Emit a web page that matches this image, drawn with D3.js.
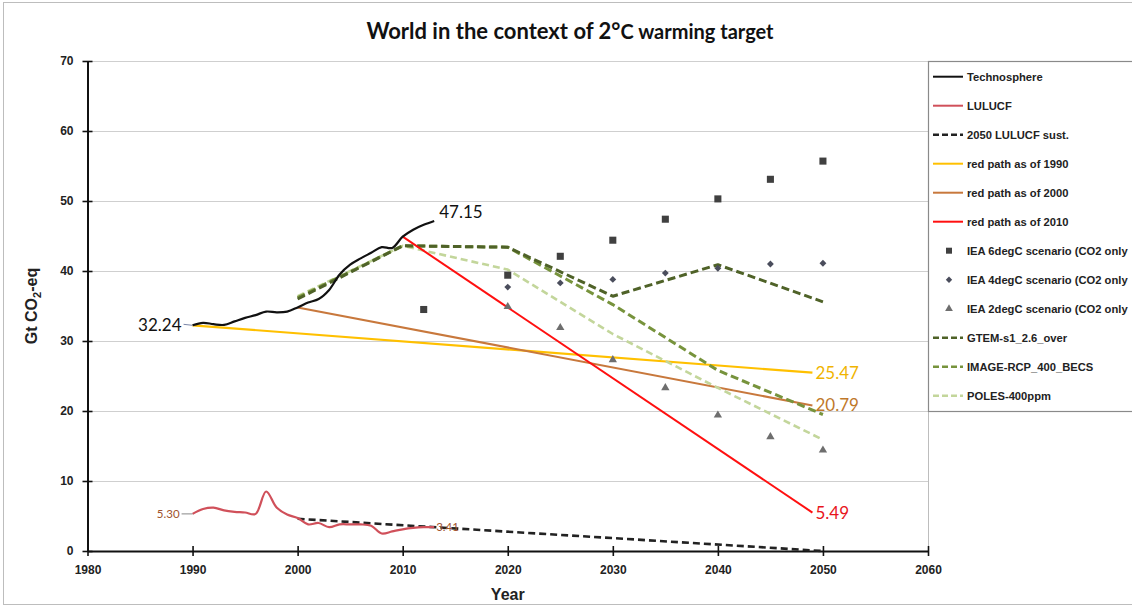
<!DOCTYPE html>
<html>
<head>
<meta charset="utf-8">
<script src="https://cdn.jsdelivr.net/npm/d3@7"></script>
<style>
  html, body { margin: 0; padding: 0; background: #fff; }
  svg { display: block; }
</style>
</head>
<body>
<svg id="chart" width="1132" height="607"></svg>
<script>
// ---- data ----
const techYears = d3.range(1990, 2014);
const techValues = [32.24, 32.6, 32.4, 32.3, 32.8, 33.3, 33.7, 34.2, 34.1, 34.2,
                    34.8, 35.5, 36.0, 37.3, 39.5, 40.9, 41.8, 42.6, 43.4, 43.3,
                    44.9, 45.9, 46.6, 47.15];
const luYears = d3.range(1990, 2014);
const luValues = [5.30, 6.0, 6.2, 5.8, 5.6, 5.5, 5.3, 8.5, 6.2, 5.2,
                  4.7, 3.8, 4.0, 3.4, 3.8, 3.8, 3.8, 3.6, 2.5, 2.8,
                  3.1, 3.3, 3.4, 3.41];
const sustYears = [2000, 2050];
const sustValues = [4.6, 0];
const path1990Years = [1990, 2049];
const path1990Values = [32.24, 25.47];
const path2000Years = [2000, 2049];
const path2000Values = [34.8, 20.79];
const path2010Years = [2010, 2049];
const path2010Values = [44.9, 5.49];
const scenYears = [2000, 2010, 2020, 2030, 2040, 2050];
const gtemValues = [36.0, 43.6, 43.4, 36.4, 40.9, 35.6];
const imageValues = [36.2, 43.6, 43.4, 35.2, 25.8, 19.5];
const polesValues = [36.4, 43.6, 40.2, 31.0, 23.3, 15.9];
const ieaYears6 = [2012, 2020, 2025, 2030, 2035, 2040, 2045, 2050];
const iea6Values = [34.5, 39.4, 42.1, 44.4, 47.4, 50.3, 53.1, 55.7];
const ieaYears = [2020, 2025, 2030, 2035, 2040, 2045, 2050];
const iea4Values = [37.7, 38.3, 38.8, 39.7, 40.4, 41.0, 41.1];
const iea2Values = [34.9, 31.9, 27.3, 23.3, 19.4, 16.3, 14.4];
const xTicks = [1980, 1990, 2000, 2010, 2020, 2030, 2040, 2050, 2060];
const yTicks = [0, 10, 20, 30, 40, 50, 60, 70];
const legendLabels = ["Technosphere", "LULUCF", "2050 LULUCF sust.", "red path as of 1990",
  "red path as of 2000", "red path as of 2010", "IEA 6degC scenario (CO2 only",
  "IEA 4degC scenario (CO2 only", "IEA 2degC scenario (CO2 only", "GTEM-s1_2.6_over",
  "IMAGE-RCP_400_BECS", "POLES-400ppm"];

// ---- styles ----
const C = {
  tech: "#111111", lu: "#d0505a", sust: "#222222",
  p1990: "#ffc000", p2000: "#c8783c", p2010: "#ff1010",
  gtem: "#4f6228", image: "#77933c", poles: "#c3d69b",
  sq: "#404040", dia: "#4a4d5c", tri: "#6e6e6e"
};

const svg = d3.select("#chart");
const W = 1132, H = 607;
const plot = { left: 87.5, right: 928, top: 61, bottom: 551 };

const x = d3.scaleLinear().domain([1980, 2060]).range([plot.left, plot.right]);
const y = d3.scaleLinear().domain([0, 70]).range([plot.bottom, plot.top]);

// outer frame
svg.append("rect").attr("x", 3.5).attr("y", 2.5).attr("width", W + 10).attr("height", H - 5)
  .attr("fill", "#fff").attr("stroke", "#bdbdbd").attr("stroke-width", 1);

// title
const title = svg.append("text").attr("x", 570).attr("y", 39).attr("text-anchor", "middle")
  .attr("font-family", "Lato, 'Open Sans', sans-serif").attr("font-weight", "bold")
  .attr("fill", "#111");
title.append("tspan").attr("font-size", 22).text("World in the context of 2°");
title.append("tspan").attr("font-size", 20).text("C warming target");

// gridlines
svg.append("g").selectAll("line").data(yTicks.filter(d => d > 0)).join("line")
  .attr("x1", plot.left).attr("x2", plot.right)
  .attr("y1", d => Math.round(y(d)) + 0.5).attr("y2", d => Math.round(y(d)) + 0.5)
  .attr("stroke", "#cfcfcf").attr("stroke-width", 1.2);
// plot-area right edge
svg.append("line").attr("x1", plot.right + 0.5).attr("x2", plot.right + 0.5)
  .attr("y1", plot.top).attr("y2", plot.bottom).attr("stroke", "#bdbdbd");

// axes
const xAxis = svg.append("g").attr("transform", `translate(0,${plot.bottom})`)
  .call(d3.axisBottom(x).tickValues(xTicks).tickFormat(d3.format("d")).tickSize(0).tickPadding(14));
const yAxis = svg.append("g").attr("transform", `translate(${plot.left},0)`)
  .call(d3.axisLeft(y).tickValues(yTicks).tickSize(0).tickPadding(14));
[xAxis, yAxis].forEach(g => {
  g.select(".domain").attr("stroke", "#111").attr("stroke-width", 2);
  g.selectAll("text").attr("font-family", "'Liberation Sans', Arial, sans-serif")
    .attr("font-weight", "bold").attr("font-size", 12).attr("fill", "#222");
});
// crossing tick marks
xAxis.selectAll(".tick").append("line").attr("y1", -5).attr("y2", 5)
  .attr("stroke", "#111").attr("stroke-width", 1.6);
yAxis.selectAll(".tick").append("line").attr("x1", -5).attr("x2", 5)
  .attr("stroke", "#111").attr("stroke-width", 1.6);

// axis titles
svg.append("text").attr("x", (plot.left + plot.right) / 2).attr("y", 600).attr("text-anchor", "middle")
  .attr("font-family", "'Liberation Sans', Arial, sans-serif").attr("font-weight", "bold")
  .attr("font-size", 16).attr("fill", "#222").text("Year");
const yt = svg.append("text").attr("transform", `translate(37,${(plot.top + plot.bottom) / 2}) rotate(-90)`)
  .attr("text-anchor", "middle").attr("font-family", "'Liberation Sans', Arial, sans-serif")
  .attr("font-weight", "bold").attr("font-size", 16).attr("fill", "#222");
yt.append("tspan").text("Gt CO");
yt.append("tspan").attr("font-size", 11).attr("dy", 4).text("2");
yt.append("tspan").attr("dy", -4).text("-eq");

// ---- series ----
const zip = (xs, vs) => xs.map((d, i) => [d, vs[i]]);
const smooth = d3.line().x(d => x(d[0])).y(d => y(d[1])).curve(d3.curveCatmullRom.alpha(0.5));
const straight = d3.line().x(d => x(d[0])).y(d => y(d[1]));
const g = svg.append("g");

function drawLine(gen, data, color, width, dash) {
  g.append("path").attr("d", gen(data)).attr("fill", "none").attr("stroke", color)
    .attr("stroke-width", width).attr("stroke-dasharray", dash || null)
    .attr("stroke-linejoin", "round");
}

drawLine(straight, zip(path1990Years, path1990Values), C.p1990, 2.2);
drawLine(straight, zip(path2000Years, path2000Values), C.p2000, 2);
drawLine(straight, zip(scenYears, polesValues), C.poles, 2.6, "7,4");
drawLine(straight, zip(scenYears, imageValues), C.image, 3, "8,4");
drawLine(straight, zip(scenYears, gtemValues), C.gtem, 3, "8,4");
drawLine(straight, zip(sustYears, sustValues), C.sust, 2.6, "7,4");
drawLine(smooth, zip(luYears, luValues), C.lu, 2.2);
drawLine(straight, zip(path2010Years, path2010Values), C.p2010, 2);
drawLine(smooth, zip(techYears, techValues), C.tech, 2.2);

// IEA markers
const sym = (type, size) => d3.symbol().type(type).size(size);
g.selectAll(".sq").data(zip(ieaYears6, iea6Values)).join("path")
  .attr("transform", d => `translate(${x(d[0])},${y(d[1])})`)
  .attr("d", sym(d3.symbolSquare, 50)()).attr("fill", C.sq);
g.selectAll(".dia").data(zip(ieaYears, iea4Values)).join("path")
  .attr("transform", d => `translate(${x(d[0])},${y(d[1])})`)
  .attr("d", sym(d3.symbolDiamond2, 30)()).attr("fill", C.dia);
g.selectAll(".tri").data(zip(ieaYears, iea2Values)).join("path")
  .attr("transform", d => `translate(${x(d[0])},${y(d[1])})`)
  .attr("d", sym(d3.symbolTriangle, 30)()).attr("fill", C.tri);

// value labels
const lblFont = "Lato, 'Open Sans', sans-serif";
function valueLabel(xv, yv, text, color, size, anchor, dx, dy) {
  svg.append("text").attr("x", x(xv) + dx).attr("y", y(yv) + dy)
    .attr("text-anchor", anchor).attr("font-family", lblFont).attr("font-size", size)
    .attr("fill", color).text(text);
}
const techLast = techValues.length - 1;
valueLabel(techYears[techLast], techValues[techLast], d3.format(".2f")(techValues[techLast]), "#111", 17, "start", 5, -3);
valueLabel(techYears[0], techValues[0], d3.format(".2f")(techValues[0]), "#111", 17, "end", -11, 6);
svg.append("line").attr("x1", x(techYears[0]) - 9).attr("x2", x(techYears[0]))
  .attr("y1", y(techValues[0]) - 1).attr("y2", y(techValues[0])).attr("stroke", "#7a86a8").attr("stroke-width", 1);
valueLabel(path1990Years[1], path1990Values[1], d3.format(".2f")(path1990Values[1]), "#f0b400", 17, "start", 3, 6);
valueLabel(path2000Years[1], path2000Values[1], d3.format(".2f")(path2000Values[1]), "#c0782a", 17, "start", 3, 6);
valueLabel(path2010Years[1], path2010Values[1], d3.format(".2f")(path2010Values[1]), "#e8141c", 17, "start", 3, 6);
valueLabel(luYears[0], luValues[0], d3.format(".2f")(luValues[0]), "#a0522d", 11.5, "end", -13, 4);
svg.append("line").attr("x1", x(luYears[0]) - 11).attr("x2", x(luYears[0]))
  .attr("y1", y(luValues[0])).attr("y2", y(luValues[0])).attr("stroke", "#888").attr("stroke-width", 1);
const luLast = luValues.length - 1;
valueLabel(luYears[luLast], luValues[luLast], d3.format(".2f")(luValues[luLast]), "#a0522d", 11.5, "start", 2, 4);

// ---- legend ----
const lg = svg.append("g");
lg.append("rect").attr("x", 928.5).attr("y", 61.5).attr("width", 220).attr("height", 350)
  .attr("fill", "#fff").attr("stroke", "#8a8a8a").attr("stroke-width", 1.2);
const legendStyles = [
  { kind: "line", color: C.tech, w: 2 },
  { kind: "line", color: C.lu, w: 2 },
  { kind: "line", color: C.sust, w: 2.4, dash: "6,3" },
  { kind: "line", color: C.p1990, w: 2 },
  { kind: "line", color: C.p2000, w: 2 },
  { kind: "line", color: C.p2010, w: 2 },
  { kind: "sym", color: C.sq, type: d3.symbolSquare, size: 36 },
  { kind: "sym", color: C.dia, type: d3.symbolDiamond2, size: 26 },
  { kind: "sym", color: C.tri, type: d3.symbolTriangle, size: 26 },
  { kind: "line", color: C.gtem, w: 2.6, dash: "6,3" },
  { kind: "line", color: C.image, w: 2.6, dash: "6,3" },
  { kind: "line", color: C.poles, w: 2.6, dash: "6,3" }
];
legendLabels.forEach((label, i) => {
  const cy = 76.7 + i * 29;
  const s = legendStyles[i];
  if (s.kind === "line") {
    lg.append("line").attr("x1", 933).attr("x2", 963).attr("y1", cy).attr("y2", cy)
      .attr("stroke", s.color).attr("stroke-width", s.w).attr("stroke-dasharray", s.dash || null);
  } else {
    lg.append("path").attr("transform", `translate(949,${cy})`)
      .attr("d", d3.symbol().type(s.type).size(s.size)()).attr("fill", s.color);
  }
  lg.append("text").attr("x", 967).attr("y", cy + 4).attr("font-family", "'Liberation Sans', Arial, sans-serif")
    .attr("font-weight", "bold").attr("font-size", 11.2).attr("fill", "#222").text(label);
});
</script>
</body>
</html>
